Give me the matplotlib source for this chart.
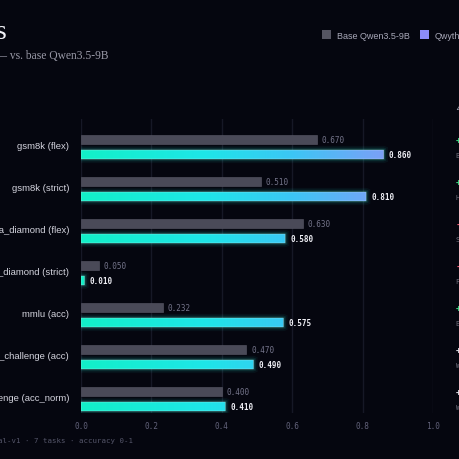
import matplotlib.pyplot as plt
import numpy as np
from matplotlib.colors import LinearSegmentedColormap
from matplotlib.patches import FancyBboxPatch, Patch

tasks = ["gsm8k (flex)", "gsm8k (strict)", "gpqa_diamond (flex)", "gpqa_diamond (strict)",
         "mmlu (acc)", "arc_challenge (acc)", "arc_challenge (acc_norm)"]
base = [0.670, 0.510, 0.630, 0.050, 0.232, 0.470, 0.400]
qwythos = [0.860, 0.810, 0.580, 0.010, 0.575, 0.490, 0.410]
verdicts = ["Big gain", "Huge gain", "Slight drop", "Flat / noise", "Enormous gain",
            "Within noise", "Within noise"]
xticks = [0.0, 0.2, 0.4, 0.6, 0.8, 1.0]

BG = "#05060f"
W, H = 460, 460
fig = plt.figure(figsize=(4.6, 4.6), dpi=100, facecolor=BG)

# axes placed in pixel terms: x 81..433, y 119.5..413.5
ax = fig.add_axes([81 / W, 1 - 413.5 / H, 352 / W, 294 / H])
ax.set_facecolor(BG)

cmap = LinearSegmentedColormap.from_list(
    "qw", [(0, "#12f0c8"), (0.35, "#1ee6e8"), (0.6, "#3cc6f5"), (1.0, "#9c8cf8")])

bh = 9 / 42
off = 15 / 42
for i, (b, q) in enumerate(zip(base, qwythos)):
    # base bar
    ax.barh(i, b, height=bh, color="#4a4a58", edgecolor="#5a5a68", lw=0.4, zorder=3)
    ax.text(b + 0.014, i, f"{b:.3f}", va="center", ha="left", fontsize=5.5,
            family="DejaVu Sans Mono", color="#74748a", zorder=5)
    # qwythos bar with glow + gradient
    y0 = i + off - bh / 2
    for lw, a in [(6, 0.05), (3.5, 0.09), (1.8, 0.14)]:
        ax.add_patch(FancyBboxPatch((0, y0), q, bh, boxstyle="round,pad=0,rounding_size=0.004",
                                    fc="none", ec="#2af0e0", lw=lw, alpha=a, zorder=2))
    grad = np.linspace(0, q, 256)[None, :]
    im = ax.imshow(grad, extent=(0, q, y0 + bh, y0), cmap=cmap, vmin=0, vmax=1,
                   aspect="auto", zorder=4, interpolation="bilinear")
    clip = FancyBboxPatch((0, y0), q, bh, boxstyle="round,pad=0,rounding_size=0.004",
                          fc="none", ec=(1, 1, 1, 0.35), lw=0.5, zorder=4.5)
    ax.add_patch(clip)
    im.set_clip_path(clip)
    ax.text(q + 0.014, i + off, f"{q:.3f}", va="center", ha="left", fontsize=5.5,
            family="DejaVu Sans Mono", color="#f0f0f6", fontweight="bold", zorder=5)
    # task label
    ax.text(-0.034, i + 0.15, tasks[i], ha="right", va="center", fontsize=6.8,
            family="Liberation Sans", color="#d4d4de", clip_on=False)
    # delta column
    d = q - b
    col = "#3ddc84" if d > 0.05 else ("#ff5c7a" if d < -0.02 else "#e0e0e8")
    ax.text(1.065, i, f"{d:+.3f}", ha="left", va="center", fontsize=6.5,
            family="DejaVu Sans Mono", color=col, fontweight="bold", clip_on=False)
    ax.text(1.065, i + 0.38, verdicts[i], ha="left", va="center", fontsize=5,
            family="DejaVu Sans Mono", color="#6e6e7c", clip_on=False)

ax.text(1.065, -0.78, "Δ vs base", ha="left", va="center", fontsize=6.5,
        family="Liberation Sans", color="#a0a0b0", style="italic", clip_on=False)

ax.set_xlim(0, 1.0)
ax.set_ylim(6.5, -0.5)
ax.set_xticks(xticks)
ax.set_xticklabels([f"{t:.1f}" for t in xticks], family="DejaVu Sans Mono", fontsize=5.6,
                   color="#62627a")
ax.set_yticks([])
ax.tick_params(axis="x", length=0, pad=6)
ax.grid(axis="x", color="#161826", lw=1, zorder=0)
for s in ax.spines.values():
    s.set_visible(False)

# title block (runs off the left edge)
fig.text(7 / W, 1 - 39 / H, "Benchmarks", ha="right", va="baseline", fontsize=20,
         family="Liberation Serif", color="#f2f2f8")
fig.text(108 / W, 1 - 59 / H, "lm-eval harness run — vs. base Qwen3.5-9B", ha="right",
         va="baseline", fontsize=8.3, family="Liberation Serif", color="#9a9aa8")

handles = [Patch(fc="#555562", ec="none"), Patch(fc="#8c8cf8", ec="none")]
fig.legend(handles, ["Base Qwen3.5-9B", "Qwythos-9B"], loc="center left",
           bbox_to_anchor=(314 / W, 1 - 36 / H), ncol=2, frameon=False,
           prop={"family": "Liberation Sans", "size": 6.5}, labelcolor="#a8a8b8",
           handlelength=1.0, handleheight=1.0, handletextpad=0.6, columnspacing=1.2)

fig.text(133 / W, 1 - 441 / H, "source: qwythos-eval-v1 · 7 tasks · accuracy 0-1",
         ha="right", va="center", fontsize=5.3, family="DejaVu Sans Mono", color="#55566a")

fig.savefig("out.png", dpi=100, facecolor=BG)
